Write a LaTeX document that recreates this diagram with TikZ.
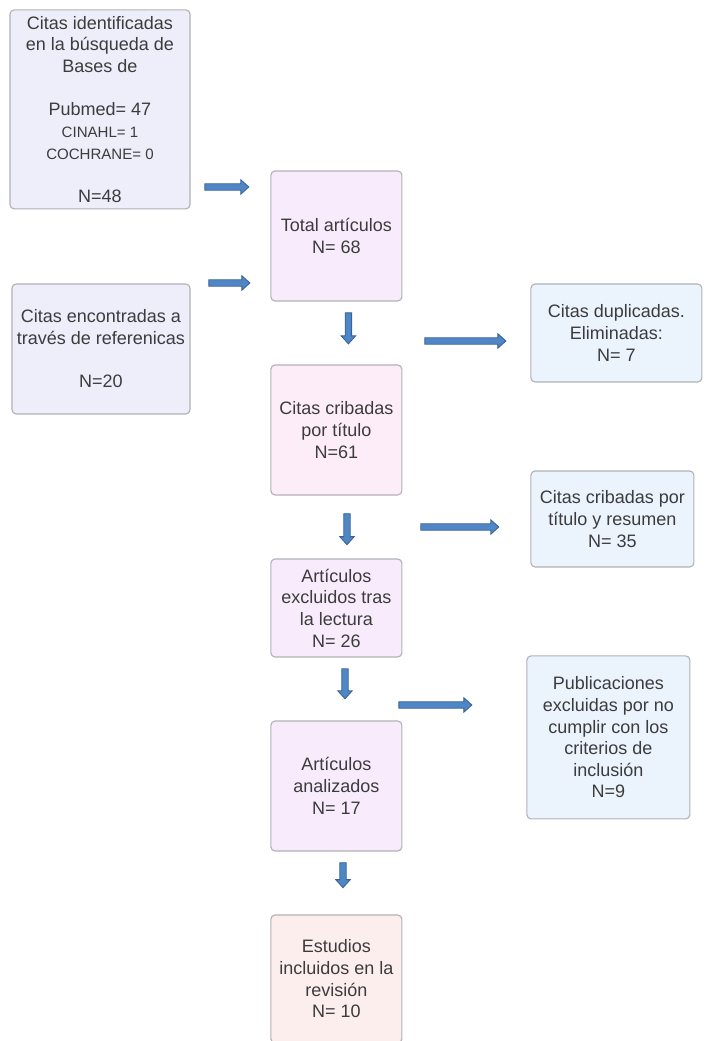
\documentclass[tikz,border=0pt]{standalone}
\usepackage{fontspec}
\setmainfont{Liberation Sans}
\usetikzlibrary{shapes.arrows}
\definecolor{lavanda}{RGB}{238,238,251}
\definecolor{malva}{RGB}{248,236,252}
\definecolor{rosa}{RGB}{253,237,248}
\definecolor{salmon}{RGB}{253,238,238}
\definecolor{celeste}{RGB}{235,243,253}
\definecolor{borde}{RGB}{178,178,182}
\definecolor{texto}{RGB}{60,60,60}
\definecolor{flecharelleno}{RGB}{79,134,198}
\definecolor{flechaborde}{RGB}{56,98,148}

\begin{document}
\begin{tikzpicture}[
    caja/.style={
        rectangle,
        draw=borde,
        fill=#1,
        line width=0.8pt,
        text=texto,
        align=center,
        inner sep=0pt,
        rounded corners=3pt,
        font=\fontsize{12.8}{15.4}\selectfont
    },
    flecha/.style={
        single arrow,
        draw=flechaborde,
        fill=flecharelleno,
        line width=0.6pt,
        minimum height=#1,
        minimum width=0pt,
        inner sep=0pt,
        inner ysep=0.07cm,
        text height=0pt,
        text depth=0pt,
        single arrow head extend=0.1cm,
        single arrow tip angle=84
    },
    chico/.style={font=\fontsize{10.7}{14}\selectfont}
]

% fondo y margenes
\fill[white] (0,0) rectangle (17.675,26.025);
\useasboundingbox (0,0) rectangle (17.675,26.025);

% Cajas de entrada a la izquierda
\node[caja=lavanda, minimum width=4.5cm, minimum height=4.975cm] (citasbd) at (2.5,23.29)
    {Citas identificadas\\en la búsqueda de\\Bases de\\[15.4pt]Pubmed= 47\\
     {\fontsize{10.7}{14}\selectfont CINAHL= 1}\\{\fontsize{10.7}{14}\selectfont COCHRANE= 0}\\[15.4pt]N=48};
\node[caja=lavanda, minimum width=4.45cm, minimum height=3.25cm] (citasref) at (2.525,17.3)
    {Citas encontradas a\\través de referenicas\\[15.4pt]N=20};

% Columna central
\node[caja=malva, minimum width=3.275cm, minimum height=3.25cm] (total) at (8.41,20.125)
    {Total artículos\\N= 68};
\node[caja=rosa, minimum width=3.275cm, minimum height=3.25cm] (cribadas) at (8.41,15.275)
    {Citas cribadas\\por título\\N=61};
\node[caja=malva, minimum width=3.275cm, minimum height=2.45cm] (excluidos) at (8.41,10.825)
    {Artículos\\excluidos tras\\la lectura\\N= 26};
\node[caja=malva, minimum width=3.275cm, minimum height=3.25cm] (analizados) at (8.41,6.375)
    {Artículos\\analizados\\N= 17};
\node[caja=salmon, minimum width=3.275cm, minimum height=3.2cm] (estudios) at (8.41,1.55)
    {Estudios\\incluidos en la\\revisión\\N= 10};

% Cajas de exclusion a la derecha
\node[caja=celeste, minimum width=4.275cm, minimum height=2.45cm] (duplicadas) at (15.41,17.7)
    {Citas duplicadas.\\Eliminadas:\\N= 7};
\node[caja=celeste, minimum width=4.075cm, minimum height=2.4cm] (resumen) at (15.31,13.05)
    {Citas cribadas por\\título y resumen\\N= 35};
\node[caja=celeste, minimum width=4.075cm, minimum height=4.075cm] (publicaciones) at (15.21,7.59)
    {Publicaciones\\excluidas por no\\cumplir con los\\criterios de\\inclusión\\N=9};

% Flechas horizontales
\node[flecha=1.1cm] (flechabd) at (5.625,21.35) {};
\node[flecha=1.025cm] (flecharef) at (5.69,18.95) {};
\node[flecha=2.025cm] (flechadup) at (11.59,17.5) {};
\node[flecha=1.95cm] (flecharesumen) at (11.45,12.85) {};
\node[flecha=1.825cm] (flechapub) at (10.84,8.4) {};

% Flechas hacia abajo
\node[flecha=0.775cm, rotate=-90] (flechatotal) at (8.71,17.86) {};
\node[flecha=0.775cm, rotate=-90] (flechacribadas) at (8.675,12.84) {};
\node[flecha=0.75cm, rotate=-90] (flechaexcluidos) at (8.625,8.975) {};
\node[flecha=0.625cm, rotate=-90] (flechaanalizados) at (8.575,4.19) {};

\end{tikzpicture}
\end{document}
